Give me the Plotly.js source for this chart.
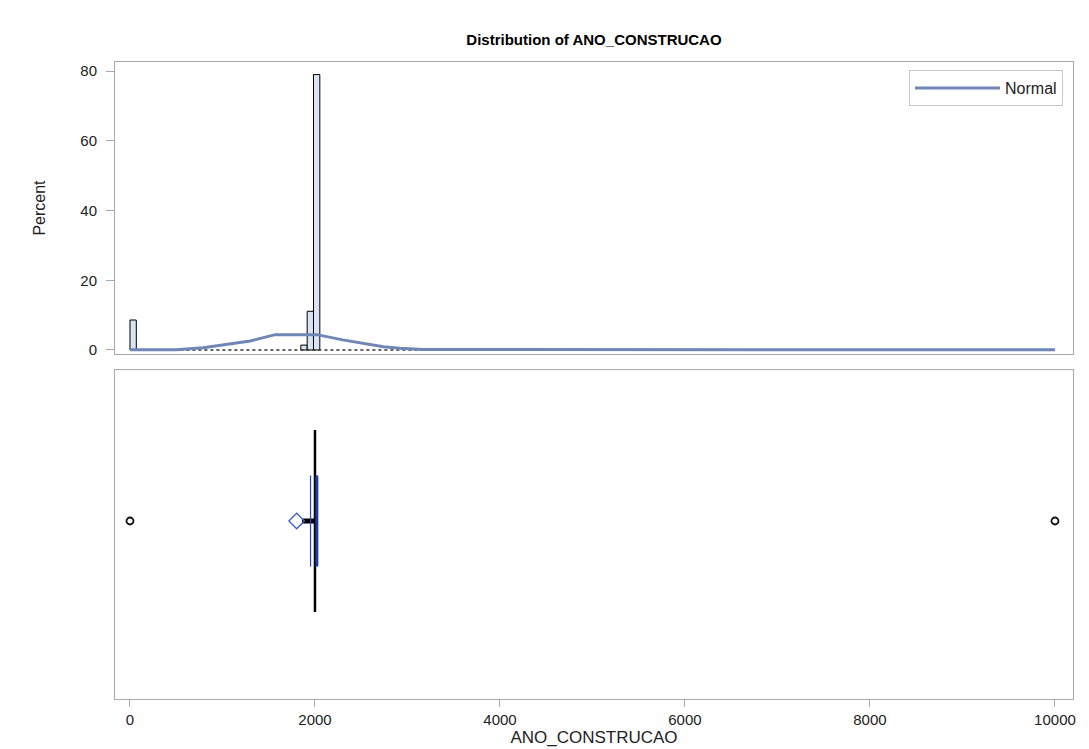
<!DOCTYPE html>
<html>
<head>
<meta charset="utf-8">
<script src="https://cdn.plot.ly/plotly-3.0.1.min.js"></script>
<style>html,body{margin:0;padding:0;background:#fff}</style>
</head>
<body>
<div id="chart" style="width:1089px;height:749px"></div>
<script>
// Histogram bins of ANO_CONSTRUCAO (percent of observations)
const binWidth = 68.4;
const binMid = [34.2, 1881.3, 1949.7, 2018.1];
const binPct = [8.6, 1.4, 11.1, 79.0];

// Range of bins holding only a handful of observations (drawn flat on the baseline)
const sparseBinX = [480, 3200];
const sparseBinPct = [0, 0];

// Fitted normal curve, percent scale
const normalX = [0, 500, 790, 1100, 1300, 1570, 1800, 2020, 2300, 2550, 2740, 2920, 3170, 10000];
const normalPct = [0.05, 0.1, 0.65, 1.8, 2.6, 4.4, 4.45, 4.4, 2.9, 1.7, 0.95, 0.5, 0.15, 0.05];

// Box plot statistics
const whiskerLow = 1860;
const q1 = 1952;
const median = 2000;
const q3 = 2020;
const meanVal = 1802;
const outliers = [0, 10000];

const xTicks = [0, 2000, 4000, 6000, 8000, 10000];
const xTickText = ['0', '2000', '4000', '6000', '8000', '10000'];
const yTicks = [0, 20, 40, 60, 80];

const FONT = 'Liberation Sans, Arial, sans-serif';
const FRAME = '#a9a9a9';
const CURVE = '#6f87b4';

const traces = [
  {
    type: 'bar', x: binMid, y: binPct, width: binWidth,
    marker: {color: '#d8e4f4', line: {color: '#000', width: 1}},
    xaxis: 'x', yaxis: 'y', showlegend: false, hoverinfo: 'x+y'
  },
  {
    type: 'scatter', mode: 'lines', x: sparseBinX, y: sparseBinPct,
    line: {color: '#333', width: 1.5, dash: 'dot'},
    xaxis: 'x', yaxis: 'y', showlegend: false, hoverinfo: 'skip'
  },
  {
    type: 'scatter', mode: 'lines', name: 'Normal', x: normalX, y: normalPct,
    line: {color: CURVE, width: 3},
    xaxis: 'x', yaxis: 'y', showlegend: true
  },
  // lower whisker
  {
    type: 'scatter', mode: 'lines', x: [whiskerLow, median], y: [0, 0],
    line: {color: '#000', width: 5}, xaxis: 'x2', yaxis: 'y2', showlegend: false
  },
  // box edges and median
  {
    type: 'scatter', mode: 'lines', x: [q1, q1], y: [-0.277, 0.277],
    line: {color: '#2a45b0', width: 1.2}, xaxis: 'x2', yaxis: 'y2', showlegend: false
  },
  {
    type: 'scatter', mode: 'lines', x: [median, median], y: [-0.553, 0.553],
    line: {color: '#000', width: 2.5}, xaxis: 'x2', yaxis: 'y2', showlegend: false
  },
  {
    type: 'scatter', mode: 'lines', x: [q3, q3], y: [-0.277, 0.277],
    line: {color: '#1b3aa6', width: 3}, xaxis: 'x2', yaxis: 'y2', showlegend: false
  },
  // mean
  {
    type: 'scatter', mode: 'markers', x: [meanVal], y: [0],
    marker: {symbol: 'diamond-open', size: 12, color: '#3d5fc4', line: {width: 1.3}},
    xaxis: 'x2', yaxis: 'y2', showlegend: false
  },
  // outliers
  {
    type: 'scatter', mode: 'markers', x: outliers, y: outliers.map(() => 0),
    marker: {symbol: 'circle-open', size: 7, color: '#111', line: {width: 1.8}},
    xaxis: 'x2', yaxis: 'y2', showlegend: false
  }
];

const tickFont = {family: FONT, size: 15, color: '#222'};

const layout = {
  width: 1089, height: 749,
  margin: {l: 115, r: 16, t: 62, b: 50},
  paper_bgcolor: '#fff', plot_bgcolor: '#fff',
  font: {family: FONT, color: '#000'},
  title: {
    text: '<b>Distribution of ANO_CONSTRUCAO</b>',
    font: {family: FONT, size: 15, color: '#000'},
    x: 0.5, xref: 'paper', y: 1 - 40 / 749, yref: 'container', yanchor: 'middle'
  },
  showlegend: true,
  legend: {
    x: 0.9896, xanchor: 'right', y: 0.9874, yanchor: 'top',
    bordercolor: '#c8c8c8', borderwidth: 1, bgcolor: '#fff',
    font: {family: FONT, size: 16, color: '#222'}, itemwidth: 85,
    tracegroupgap: 0
  },
  xaxis: {
    domain: [0, 1], anchor: 'y', range: [-162, 10195],
    showticklabels: false, ticks: '', showgrid: false, zeroline: false,
    showline: true, mirror: true, linecolor: FRAME, linewidth: 1
  },
  yaxis: {
    domain: [0.5416, 1], anchor: 'x', range: [-1.15, 82.6],
    tickvals: yTicks, ticks: 'outside', ticklen: 8, tickcolor: FRAME,
    tickfont: tickFont, ticklabelstandoff: 6, showgrid: false, zeroline: false,
    showline: true, mirror: true, linecolor: FRAME, linewidth: 1,
    title: {text: 'Percent', font: {family: FONT, size: 16, color: '#222'}, standoff: 30}
  },
  xaxis2: {
    domain: [0, 1], anchor: 'y2', matches: 'x', range: [-162, 10195],
    tickvals: xTicks, ticktext: xTickText, ticks: 'outside', ticklen: 7, tickcolor: FRAME,
    tickfont: tickFont, showgrid: false, zeroline: false,
    showline: true, mirror: true, linecolor: FRAME, linewidth: 1,
    title: {text: 'ANO_CONSTRUCAO', font: {family: FONT, size: 17, color: '#222'}, standoff: 4}
  },
  yaxis2: {
    domain: [0, 0.5165], anchor: 'x2', range: [-1.082, 0.918],
    showticklabels: false, ticks: '', showgrid: false, zeroline: false,
    showline: true, mirror: true, linecolor: FRAME, linewidth: 1
  }
};

Plotly.newPlot('chart', traces, layout, {displayModeBar: false, staticPlot: true});
</script>
</body>
</html>
